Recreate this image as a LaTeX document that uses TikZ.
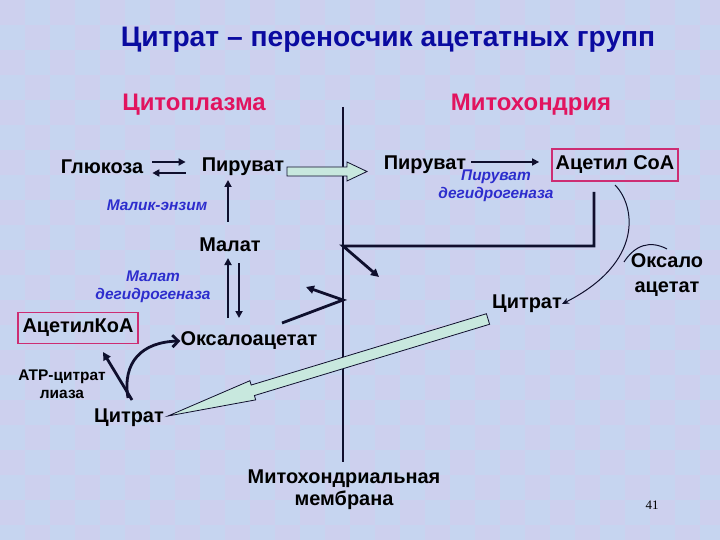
\documentclass[tikz,border=0pt]{standalone}
\usepackage{fontspec}
\setmainfont{Liberation Sans}
\newfontfamily\numfont{Liberation Serif}
\usetikzlibrary{arrows.meta,calc}
\definecolor{bgA}{RGB}{198,213,240}
\definecolor{bgB}{RGB}{205,208,238}
\definecolor{ttlc}{RGB}{10,10,160}
\definecolor{hdrc}{RGB}{225,20,95}
\definecolor{enzc}{RGB}{45,45,205}
\definecolor{boxc}{RGB}{205,45,115}
\definecolor{ink}{RGB}{15,15,45}
\definecolor{tealc}{RGB}{200,232,222}
\begin{document}
\begin{tikzpicture}[x=1bp,y=-1bp,
  lbl/.style={font=\fontsize{20}{25}\selectfont\bfseries,inner sep=0pt,text=black},
  hdr/.style={font=\fontsize{24}{26}\selectfont\bfseries,inner sep=0pt,text=hdrc},
  enz/.style={font=\fontsize{15.5}{18.5}\selectfont\bfseries\itshape,inner sep=0pt,text=enzc},
  smalllbl/.style={font=\fontsize{15.5}{18}\selectfont\bfseries,inner sep=0pt,text=black},
  cbox/.style={lbl,draw=boxc,line width=1.8bp,minimum height=32bp},
  arr/.style={draw=ink,line width=2bp,-{Triangle[length=7bp,width=7bp]}},
  thinarr/.style={draw=ink,line width=1.6bp,-{Triangle[length=7bp,width=7bp]}},
  heavy/.style={draw=ink,line width=2.8bp},
  block/.style={draw=ink,line width=0.8bp,fill=tealc},
  curvearr/.style={draw=ink,line width=1bp,-{Stealth[length=7bp,width=6bp]}}
]
\useasboundingbox (0,0) rectangle (720,540);
% background
\begin{scope}
\clip (0,0) rectangle (720,540);
\fill[bgA] (0,0) rectangle (720,540);
\foreach \i in {0,50,...,700} \foreach \j in {0,50,...,500} {
  \fill[bgB] (\i,\j) rectangle ++(25,25);
  \fill[bgB] (\i+25,\j+25) rectangle ++(25,25);
}
\end{scope}

% membrane
\coordinate (mtop) at (343,107);
\coordinate (mbot) at (343,462);
\draw[draw=ink,line width=2bp] (mtop) -- (mbot);

% titles
\node[font=\fontsize{28.3}{30}\selectfont\bfseries,text=ttlc,inner sep=0pt] (title) at (388,40) {Цитрат – переносчик ацетатных групп};
\node[hdr] (cyto) at (194,105) {Цитоплазма};
\node[hdr] (mito) at (531,105) {Митохондрия};

% labels
\node[lbl] (glu) at (102,167) {Глюкоза};
\node[lbl] (pyrL) at (243,167) {Пируват};
\node[lbl] (pyrM) at (425,165) {Пируват};
\node[cbox,minimum width=126bp] (accM) at (615,165) {Ацетил СоА};
\node[lbl] (mal) at (230,245) {Малат};
\node[lbl] (oaa) at (249,341) {Оксалоацетат};
\node[cbox,minimum width=120bp,minimum height=31bp] (accC) at (78,328) {АцетилКоА};
\node[lbl] (citC) at (129,418) {Цитрат};
\node[lbl] (citM) at (527,304) {Цитрат};
\node[lbl,align=center] (oaaM) at (667,275) {Оксало\\ацетат};
\node[font=\fontsize{20}{22}\selectfont\bfseries,inner sep=0pt,align=center] (memlbl) at (344,490) {Митохондриальная\\мембрана};
\node[smalllbl,align=center] (lyase) at (62,384) {АТР-цитрат\\лиаза};
\node[font=\fontsize{13}{15}\selectfont\numfont,inner sep=0pt] (pnum) at (652,505) {41};

% enzyme labels
\node[enz] (me) at (157,205) {Малик-энзим};
\node[enz,align=center] (mdh) at (153,287) {Малат\\дегидрогеназа};
\node[enz,align=center] (pdh) at (496,186) {Пируват\\дегидрогеназа};

% block arrows
\draw[block] (287,167) -- (347,167) -- (347,162) -- (367,171.5) -- (347,181) -- (347,176) -- (287,176) -- cycle;
\coordinate (ct) at (488,319);
\coordinate (cp) at (168,416);
\coordinate (cs) at ($(ct)!0.735!(cp)$);
\draw[block] ($(ct)!5.5bp!90:(cp)$) -- ($(cs)!5.5bp!90:(cp)$) -- ($(cs)!10bp!90:(cp)$) -- (cp)
  -- ($(cs)!10bp!-90:(cp)$) -- ($(cs)!5.5bp!-90:(cp)$) -- ($(ct)!5.5bp!-90:(cp)$) -- cycle;

% connectors
\draw[arr] ($(glu.east)+(9,-5)$) -- ($(pyrL.west)+(-16,-5)$);
\draw[arr] ($(pyrL.west)+(-16,6)$) -- ($(glu.east)+(9,6)$);
\draw[arr] (228,222) -- (228,180);
\draw[arr] (228,318) -- (228,258);
\draw[arr] (239,263) -- (239,318);
\draw[thinarr] ($(pyrM.east)+(5,-3)$) -- ($(accM.west)+(-12,-3)$);

\coordinate (j1) at (594,192);
\coordinate (j2) at (594,246);
\coordinate (j3) at (343,246);
\coordinate (j4) at (379,277);
\draw[heavy,-{Triangle[length=8bp,width=8bp]}] (j1) -- (j2) -- (j3) -- (j4);

\coordinate (k1) at (282,323);
\coordinate (k2) at (343,300);
\coordinate (k3) at (306,287);
\draw[heavy,-{Triangle[length=8bp,width=8bp]}] (k1) -- (k2) -- (k3);

\draw[curvearr] (615,185) .. controls (635,205) and (645,262) .. (citM.east);
\draw[draw=ink,line width=1bp] (667,249) .. controls (650,240) and (635,245) .. (624,262);

\draw[heavy,-{Triangle[length=8bp,width=8bp]}] (132,400) -- (103,352);
\draw[heavy,-{Straight Barb[length=6bp,width=12bp]}] (128,398) .. controls (122,362) and (142,342) .. (oaa.west);
\end{tikzpicture}
\end{document}
